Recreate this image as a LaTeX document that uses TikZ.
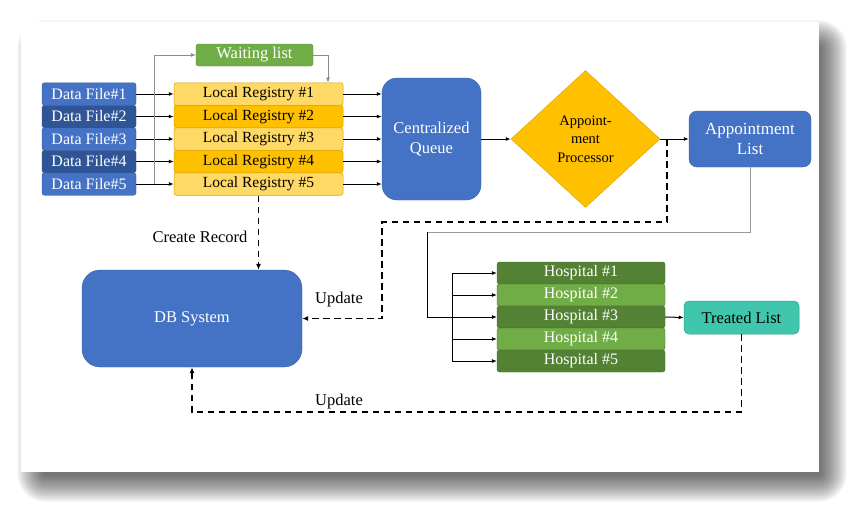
\documentclass[tikz,border=0pt]{standalone}
\usepackage{fontspec}
\setmainfont{Liberation Serif}
\usetikzlibrary{shapes.geometric,arrows.meta,calc}
\definecolor{cblue}{HTML}{4472C4}
\definecolor{cdblue}{HTML}{2F5597}
\definecolor{cgold}{HTML}{FFC000}
\definecolor{cyel}{HTML}{FFD966}
\definecolor{cgoldb}{HTML}{D6A300}
\definecolor{cgreen}{HTML}{70AD47}
\definecolor{cdgreen}{HTML}{548235}
\definecolor{cteal}{HTML}{41C6AE}
\definecolor{ctealb}{HTML}{2E9C8A}
\begin{document}
\begin{tikzpicture}[x=1pt,y=-1pt,
  box/.style={rectangle, rounded corners=2.5pt, inner sep=0pt, align=center},
  dfbox/.style={box, minimum width=94pt, minimum height=22.5pt, text=white, draw=cdblue, line width=0.4pt, font=\fontsize{16}{18}\selectfont},
  lrbox/.style={box, minimum width=169pt, minimum height=22.5pt, text=black, draw=cgoldb, line width=0.5pt, font=\fontsize{15.5}{18}\selectfont},
  hbox/.style={box, minimum width=168pt, minimum height=22pt, text=white, draw=cdgreen!80!black, line width=0.4pt, font=\fontsize{16}{18}\selectfont},
  bigbox/.style={box, fill=cblue, draw=cblue!85!black, line width=0.4pt, text=white, font=\fontsize{16.5}{20}\selectfont},
  arr/.style={-{Latex[length=5pt,width=4pt]}, line width=1pt, black},
  garr/.style={-{Latex[length=5pt,width=4pt]}, line width=0.6pt, black!45},
  darr/.style={-{Latex[length=6pt,width=5pt]}, line width=1.7pt, black, dash pattern=on 6.5pt off 4.5pt},
  lbl/.style={font=\fontsize{16.5}{19}\selectfont, text=black, inner sep=0pt}
]
\useasboundingbox (0,0) rectangle (861,514);
% page shadow
\foreach \i in {1,...,28}{
  \fill[black, opacity=0.027, rounded corners=\i pt]
    ({33-(\i-12)},{36-(\i-12)}) rectangle ({831+(\i-12)},{486+(\i-12)});
}
\fill[white] (21,22) rectangle (819,472);

% data files
\node[dfbox, fill=cblue]  (df1) at (89,94)    {Data File\#1};
\node[dfbox, fill=cdblue] (df2) at (89,116.5) {Data File\#2};
\node[dfbox, fill=cblue]  (df3) at (89,139)   {Data File\#3};
\node[dfbox, fill=cdblue] (df4) at (89,161.5) {Data File\#4};
\node[dfbox, fill=cblue]  (df5) at (89,184)   {Data File\#5};

% local registries
\node[lrbox, fill=cyel]  (lr1) at (258.5,94)    {Local Registry \#1};
\node[lrbox, fill=cgold] (lr2) at (258.5,116.5) {Local Registry \#2};
\node[lrbox, fill=cyel]  (lr3) at (258.5,139)   {Local Registry \#3};
\node[lrbox, fill=cgold] (lr4) at (258.5,161.5) {Local Registry \#4};
\node[lrbox, fill=cyel]  (lr5) at (258.5,184)   {Local Registry \#5};

% waiting list
\node[box, fill=cgreen, draw=cgreen!80!black, line width=0.4pt, text=white, minimum width=117pt, minimum height=22pt, font=\fontsize{16.5}{19}\selectfont] (wl) at (254.5,55) {Waiting list};

% centralized queue
\node[bigbox, rounded corners=15pt, minimum width=99pt, minimum height=122pt] (cq) at (431.5,139) {Centralized\\Queue};

% appointment processor
\node[diamond, fill=cgold, draw=cgoldb, line width=0.4pt, minimum width=149pt, minimum height=137pt, inner sep=0pt, align=center, font=\fontsize{14.5}{18.5}\selectfont] (ap) at (585.5,139) {Appoint-\\ment\\Processor};

% appointment list
\node[bigbox, rounded corners=8pt, minimum width=122pt, minimum height=56pt, font=\fontsize{17}{20}\selectfont] (al) at (750,139) {Appointment\\List};

% DB system
\node[bigbox, rounded corners=18pt, minimum width=220pt, minimum height=97pt] (db) at (192,318.5) {DB System};

% hospitals
\node[hbox, fill=cdgreen] (h1) at (581,273) {Hospital \#1};
\node[hbox, fill=cgreen]  (h2) at (581,295) {Hospital \#2};
\node[hbox, fill=cdgreen] (h3) at (581,317) {Hospital \#3};
\node[hbox, fill=cgreen]  (h4) at (581,339) {Hospital \#4};
\node[hbox, fill=cdgreen] (h5) at (581,361) {Hospital \#5};

% treated list
\node[box, rounded corners=5pt, fill=cteal, draw=ctealb, line width=0.5pt, text=black, minimum width=115pt, minimum height=33pt, font=\fontsize{16.5}{19}\selectfont] (tl) at (741.5,317.5) {Treated List};

% coordinates
\coordinate (wb) at (154,184);
\coordinate (wlx) at (328,0);
\coordinate (d1) at (667,139);
\coordinate (u1) at (667,222);
\coordinate (u2) at (382,222);
\coordinate (g1) at (427,232);
\coordinate (bx) at (452,0);
\coordinate (low) at (0,412);

% data file -> registry
\foreach \k in {1,...,5}{
  \draw[arr] (df\k.east) -- (lr\k.west);
  \draw[arr] (lr\k.east) -- (lr\k.east -| cq.west);
}
% waiting list branch
\draw[garr] (wb) |- (wl.west);
\draw[garr] (wl.east) -| (lr1.north -| wlx);

% main chain
\draw[arr] (cq.east) -- (ap.west);
\draw[arr] (ap.east) -- (al.west);

% dashed update from processor
\draw[darr] (d1) -- (u1) -- (u2) |- (db.east);
\node[lbl] (up1) at (339,300) {Update};

% create record
\draw[darr] (lr5.south) -- (lr5.south |- db.north);
\node[lbl] (cr) at (200,237) {Create Record};

% appointment list to hospitals
\draw[line width=0.6pt, black!40] (al.south) |- (g1);
\draw[arr, line width=0.8pt] (g1) |- (h3.west);
\draw[line width=0.8pt] (h1.west -| bx) -- (h5.west -| bx);
\foreach \k in {1,2,4,5}{
  \draw[arr, line width=0.8pt] (h\k.west -| bx) -- (h\k.west);
}

% hospital -> treated list
\draw[arr] (h3.east) -- (tl.west);

% treated list update
\draw[darr] (tl.south) -- (tl.south |- low) -| (db.south);
\node[lbl] (up2) at (339,402) {Update};
\end{tikzpicture}
\end{document}
